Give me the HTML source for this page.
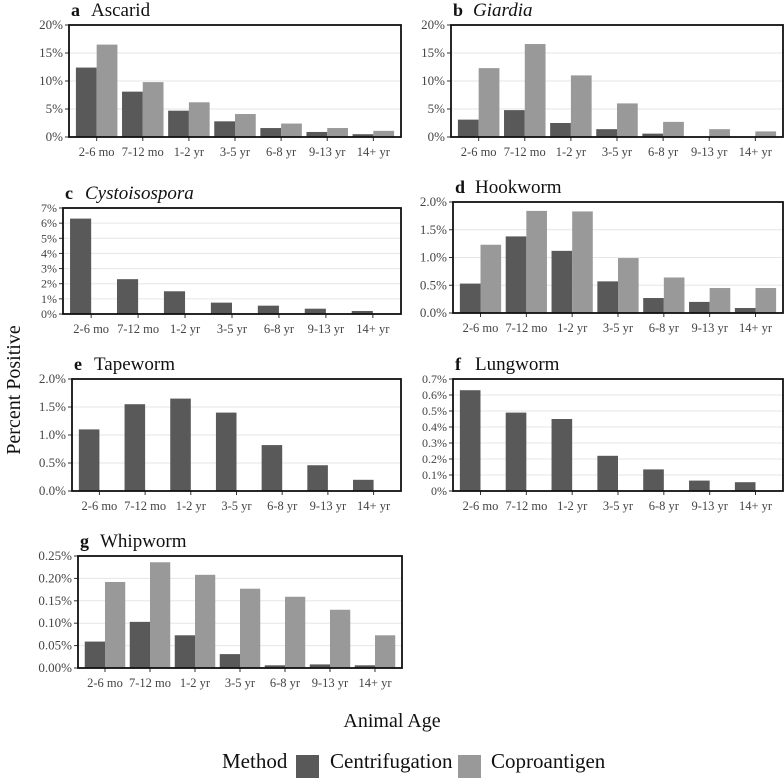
<!DOCTYPE html>
<html><head><meta charset="utf-8"><style>
body{margin:0;background:#fff}
svg{display:block;font-family:"Liberation Serif",serif}
</style></head><body>
<svg id="fig" width="784" height="780" viewBox="0 0 784 780">
<text x="0" y="0" transform="translate(20,390) rotate(-90)" text-anchor="middle" font-size="20" fill="#111">Percent Positive</text>
<text x="392" y="727" text-anchor="middle" font-size="20" fill="#111">Animal Age</text>
<g>
<text x="222" y="768" font-size="21" fill="#111">Method</text>
<rect x="296" y="755" width="23" height="23" fill="#595959"/>
<text x="330" y="768" font-size="21" fill="#111">Centrifugation</text>
<rect x="458" y="755" width="23" height="23" fill="#999999"/>
<text x="491" y="768" font-size="21" fill="#111">Coproantigen</text>
</g>
</svg>
<script>
const categories = ["2-6 mo","7-12 mo","1-2 yr","3-5 yr","6-8 yr","9-13 yr","14+ yr"];
const ascaridCent = [12.4,8.1,4.7,2.8,1.6,0.9,0.5];
const ascaridCopro = [16.5,9.8,6.2,4.1,2.4,1.6,1.1];
const giardiaCent = [3.1,4.8,2.5,1.4,0.6,0,0];
const giardiaCopro = [12.3,16.6,11.0,6.0,2.7,1.4,1.0];
const cystoCent = [6.3,2.3,1.5,0.75,0.55,0.35,0.2];
const hookCent = [0.53,1.38,1.12,0.57,0.27,0.2,0.09];
const hookCopro = [1.23,1.84,1.83,0.99,0.64,0.45,0.45];
const tapeCent = [1.1,1.55,1.65,1.4,0.82,0.46,0.2];
const lungCent = [0.63,0.49,0.45,0.22,0.135,0.065,0.055];
const whipCent = [0.059,0.103,0.073,0.031,0.006,0.008,0.006];
const whipCopro = [0.192,0.236,0.208,0.177,0.159,0.13,0.073];
const ticksAB = ["0%","5%","10%","15%","20%"];
const ticksC = ["0%","1%","2%","3%","4%","5%","6%","7%"];
const ticksDE = ["0.0%","0.5%","1.0%","1.5%","2.0%"];
const ticksF = ["0%","0.1%","0.2%","0.3%","0.4%","0.5%","0.6%","0.7%"];
const ticksG = ["0.00%","0.05%","0.10%","0.15%","0.20%","0.25%"];

const NS="http://www.w3.org/2000/svg";
const svg=document.getElementById('fig');
function mk(tag,attrs,parent){const e=document.createElementNS(NS,tag);for(const k in attrs)e.setAttribute(k,attrs[k]);(parent||svg).appendChild(e);return e;}

function panel(p){
  const g=mk('g',{});
  
  
  const L=p.l,R=p.r,T=p.t,B=p.b;
  const yVals=p.ticks.map(s=>parseFloat(s));
  const ymax=yVals[yVals.length-1];
  const y=v=>B-(v/ymax)*(B-T);
  const unit=(R-L)/(categories.length+0.2);
  const xc=i=>L+(i+0.6)*unit;
  const bw=unit*0.45;
  const fs=p.ticks.length>6?12:13;
  const tl=mk('text',{x:p.l+2,y:T-9,'font-size':18,'font-weight':'bold',fill:'#111'},g);
  tl.textContent=p.id;
  
  
  const tt=mk('text',{x:p.l+22,y:T-9,'font-size':19,fill:'#111','font-style':p.italic?'italic':'normal'},g);
  tt.textContent=p.title;
  
  
  yVals.forEach((v,i)=>{
    const yy=y(v);
    const gl=mk('line',{x1:L,x2:R,y1:yy,y2:yy,stroke:'#e6e6e6','stroke-width':1},g);
    
    
    mk('line',{x1:L-4,x2:L,y1:yy,y2:yy,stroke:'#333','stroke-width':1},g);
    const lb=mk('text',{x:L-6,y:yy+4,'text-anchor':'end','font-size':fs,fill:'#444'},g);
    lb.textContent=p.ticks[i];
    
    
  });
  categories.forEach((c,i)=>{
    const cx=xc(i);
    const v1=p.cent[i];
    const b1=mk('rect',{x:cx-bw,y:y(v1),width:bw,height:B-y(v1),fill:'#595959'},g);
    
    
    if(p.copro){
      const v2=p.copro[i];
      const b2=mk('rect',{x:cx,y:y(v2),width:bw,height:B-y(v2),fill:'#999999'},g);
      
      
    }
    mk('line',{x1:cx,x2:cx,y1:B,y2:B+4,stroke:'#333','stroke-width':1},g);
    const xl=mk('text',{x:cx,y:B+19,'text-anchor':'middle','font-size':12.5,fill:'#444'},g);
    xl.textContent=c;
    
    
  });
  const fr=mk('rect',{x:L,y:T,width:R-L,height:B-T,fill:'none',stroke:'#111','stroke-width':1.8},g);
  
  
}
panel({id:'a',title:'Ascarid',l:69,r:401,t:25,b:137,ticks:ticksAB,cent:ascaridCent,copro:ascaridCopro});
panel({id:'b',title:'Giardia',italic:true,l:451,r:783,t:25,b:137,ticks:ticksAB,cent:giardiaCent,copro:giardiaCopro});
panel({id:'c',title:'Cystoisospora',italic:true,l:63,r:401,t:208,b:314,ticks:ticksC,cent:cystoCent});
panel({id:'d',title:'Hookworm',l:453,r:783,t:202,b:313,ticks:ticksDE,cent:hookCent,copro:hookCopro});
panel({id:'e',title:'Tapeworm',l:72,r:401,t:379,b:491,ticks:ticksDE,cent:tapeCent});
panel({id:'f',title:'Lungworm',l:453,r:783,t:379,b:491,ticks:ticksF,cent:lungCent});
panel({id:'g',title:'Whipworm',l:78,r:402,t:556,b:668,ticks:ticksG,cent:whipCent,copro:whipCopro});
</script>
</body></html>
